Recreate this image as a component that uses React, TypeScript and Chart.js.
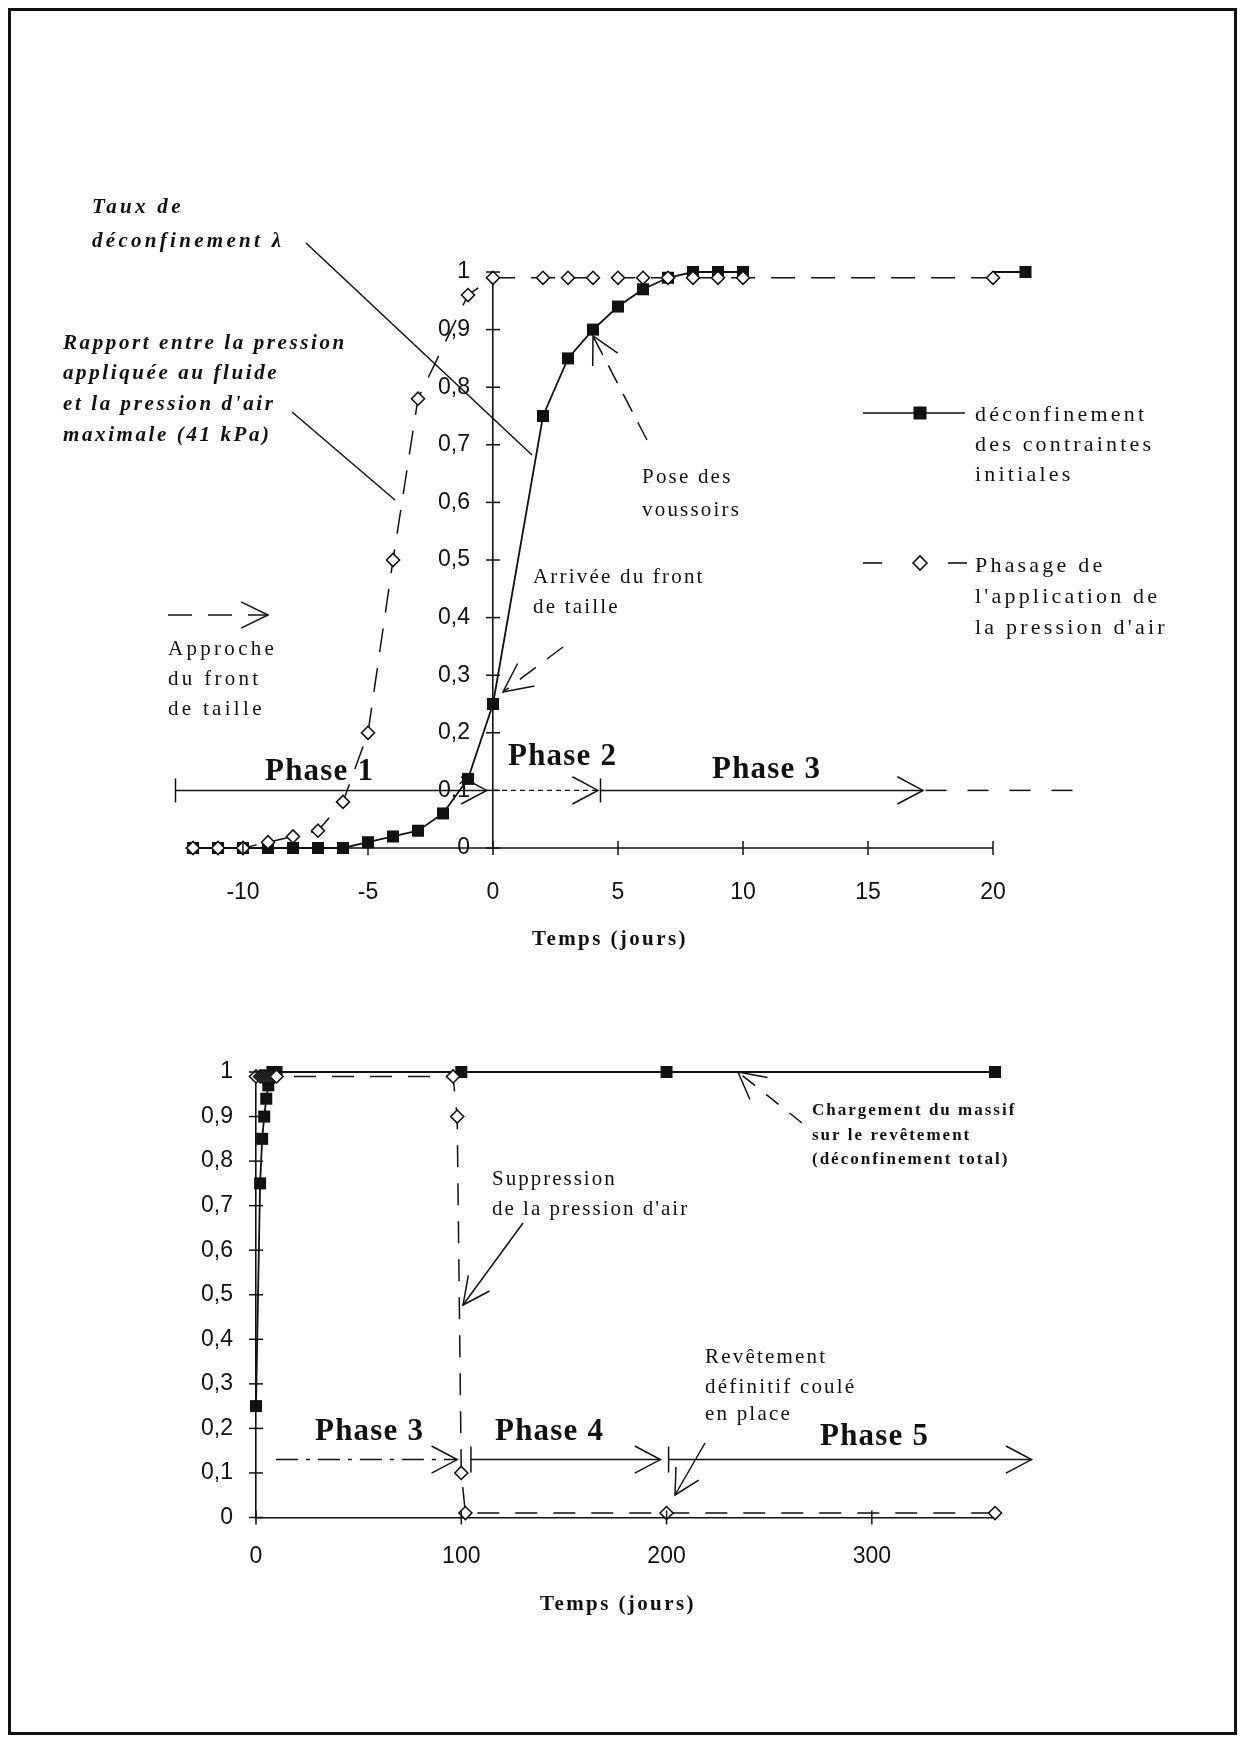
import React, { useEffect, useRef } from 'react';
import { Chart, registerables } from 'chart.js';

Chart.register(...registerables);

const INK = '#111';
const SERIF = '"Liberation Serif", "Times New Roman", serif';
const SANS = '"Liberation Sans", Arial, sans-serif';

// ---------- Top chart (Temps en jours, -12 .. 20) ----------
const topSquareDays = [-12, -11, -10, -9, -8, -7, -6, -5, -4, -3, -2, -1, 0, 2, 3, 4, 5, 6, 7, 8, 9, 10, 21.3];
const topSquareValues = [0, 0, 0, 0, 0, 0, 0, 0.01, 0.02, 0.03, 0.06, 0.12, 0.25, 0.75, 0.85, 0.9, 0.94, 0.97, 0.99, 1, 1, 1, 1];
const topDiamondDays = [-12, -11, -10, -9, -8, -7, -6, -5, -4, -3, -1, 0, 2, 3, 4, 5, 6, 7, 8, 9, 10, 20];
const topDiamondValues = [0, 0, 0, 0.01, 0.02, 0.03, 0.08, 0.2, 0.5, 0.78, 0.96, 0.99, 0.99, 0.99, 0.99, 0.99, 0.99, 0.99, 0.99, 0.99, 0.99, 0.99];

// ---------- Bottom chart (Temps en jours, 0 .. 360) ----------
const bottomSquareDays = [0, 2, 3, 4, 5, 6, 7, 8, 9, 10, 100, 200, 360];
const bottomSquareValues = [0.25, 0.75, 0.85, 0.9, 0.94, 0.97, 0.99, 1, 1, 1, 1, 1, 1];
const bottomDiamondDays = [0, 2, 3, 4, 5, 6, 7, 8, 9, 10, 96, 98, 100, 102, 200, 360];
const bottomDiamondValues = [0.99, 0.99, 0.99, 0.99, 0.99, 0.99, 0.99, 0.99, 0.99, 0.99, 0.99, 0.9, 0.1, 0.01, 0.01, 0.01];

// ---------- Ticks ----------
const X_TICKS_TOP = [-10, -5, 0, 5, 10, 15, 20];
const X_TICKS_BOTTOM = [0, 100, 200, 300];
const Y_TICKS = [0, 0.1, 0.2, 0.3, 0.4, 0.5, 0.6, 0.7, 0.8, 0.9, 1];
const Y_TICK_LABELS = ['0', '0,1', '0,2', '0,3', '0,4', '0,5', '0,6', '0,7', '0,8', '0,9', '1'];

const LEGEND_SQUARE = ['déconfinement', 'des contraintes', 'initiales'];
const LEGEND_DIAMOND = ['Phasage de', "l'application de", "la pression d'air"];

type Pt = [number, number];

function seg(ctx: CanvasRenderingContext2D, pts: Pt[], w = 1.5, dash: number[] = []) {
  ctx.save();
  ctx.beginPath();
  ctx.setLineDash(dash);
  ctx.lineWidth = w;
  ctx.strokeStyle = INK;
  ctx.moveTo(pts[0][0], pts[0][1]);
  for (let i = 1; i < pts.length; i++) ctx.lineTo(pts[i][0], pts[i][1]);
  ctx.stroke();
  ctx.restore();
}

function head(ctx: CanvasRenderingContext2D, tip: Pt, from: Pt, len = 29, angDeg = 28) {
  const a = Math.atan2(from[1] - tip[1], from[0] - tip[0]);
  const r = (angDeg * Math.PI) / 180;
  seg(ctx, [
    [tip[0] + len * Math.cos(a + r), tip[1] + len * Math.sin(a + r)],
    tip,
    [tip[0] + len * Math.cos(a - r), tip[1] + len * Math.sin(a - r)],
  ]);
}

function text(ctx: CanvasRenderingContext2D, s: string, x: number, y: number, font: string, spacing: number) {
  ctx.save();
  ctx.font = font;
  ctx.fillStyle = INK;
  ctx.textAlign = 'left';
  ctx.textBaseline = 'alphabetic';
  (ctx as any).letterSpacing = spacing + 'px';
  ctx.fillText(s, x, y);
  ctx.restore();
}

const F_BI = `italic bold 21px ${SERIF}`;
const F_R = `21px ${SERIF}`;
const F_LEG = `22px ${SERIF}`;
const F_PH = `bold 31px ${SERIF}`;
const F_T = `bold 21px ${SERIF}`;
const F_SM = `bold 17px ${SERIF}`;

function drawCrosses(chart: any) {
  const ctx = chart.ctx as CanvasRenderingContext2D;
  const xs = chart.scales.x;
  const ys = chart.scales.y;
  const ax = xs.getPixelForValue(0);
  const ay = ys.getPixelForValue(0);
  ys.ticks.forEach((t: any) => {
    const p = ys.getPixelForValue(t.value);
    seg(ctx, [[ax - 7, p], [ax + 7, p]], 1.5);
  });
  xs.ticks.forEach((t: any) => {
    const p = xs.getPixelForValue(t.value);
    seg(ctx, [[p, ay - 7], [p, ay + 7]], 1.5);
  });
}

const topAnnotations = {
  id: 'topAnnotations',
  beforeDatasetsDraw(chart: any) {
    // x axis line of the upper chart ends at the last tick (20)
    const ctx = chart.ctx as CanvasRenderingContext2D;
    const xs = chart.scales.x;
    const ay = chart.scales.y.getPixelForValue(0);
    seg(ctx, [[xs.getPixelForValue(xs.min), ay], [xs.getPixelForValue(X_TICKS_TOP[X_TICKS_TOP.length - 1]), ay]], 1.6);
  },
  afterDraw(chart: any) {
    const ctx = chart.ctx as CanvasRenderingContext2D;
    const xs = chart.scales.x;
    const ys = chart.scales.y;
    const X = (v: number) => xs.getPixelForValue(v);
    drawCrosses(chart);

    // phase arrows at lambda = 0.1
    const py = ys.getPixelForValue(0.1);
    seg(ctx, [[X(-12.7), py - 12], [X(-12.7), py + 12]]);
    seg(ctx, [[X(-12.7), py], [X(-0.25), py]]);
    head(ctx, [X(-0.25), py], [X(-5), py]);
    seg(ctx, [[X(0), py], [X(4.2), py]], 1.2, [5, 4]);
    head(ctx, [X(4.2), py], [X(0), py]);
    seg(ctx, [[X(4.3), py - 12], [X(4.3), py + 12]]);
    seg(ctx, [[X(4.3), py], [X(17.2), py]]);
    head(ctx, [X(17.2), py], [X(10), py]);
    seg(ctx, [[X(17.3), py], [X(23.2), py]], 1.5, [21, 21]);

    text(ctx, 'Phase 1', 265, 780, F_PH, 1.2);
    text(ctx, 'Phase 2', 508, 765, F_PH, 1.2);
    text(ctx, 'Phase 3', 712, 778, F_PH, 1.2);

    // bold italic labels
    text(ctx, 'Taux de', 92, 213, F_BI, 3.3);
    text(ctx, 'déconfinement λ', 92, 247, F_BI, 3.3);
    seg(ctx, [[306, 243], [532, 455]]);

    text(ctx, 'Rapport entre la pression', 63, 349, F_BI, 2.6);
    text(ctx, 'appliquée au fluide', 63, 379, F_BI, 2.6);
    text(ctx, "et la pression d'air", 63, 410, F_BI, 2.6);
    text(ctx, 'maximale (41 kPa)', 63, 441, F_BI, 2.6);
    seg(ctx, [[292, 412], [395, 500]]);

    // Pose des voussoirs
    text(ctx, 'Pose des', 642, 483, F_R, 2.2);
    text(ctx, 'voussoirs', 642, 516, F_R, 2.2);
    seg(ctx, [[647, 440], [593, 336]], 1.5, [20, 12]);
    head(ctx, [593, 336], [647, 440], 30, 28);

    // Arrivée du front de taille
    text(ctx, 'Arrivée du front', 533, 583, F_R, 2.2);
    text(ctx, 'de taille', 533, 613, F_R, 2.2);
    seg(ctx, [[563, 647], [503, 692]], 1.5, [20, 14]);
    head(ctx, [503, 692], [563, 647], 32, 26);

    // Approche du front de taille
    seg(ctx, [[168, 615], [268, 615]], 1.5, [24, 16]);
    head(ctx, [268, 615], [168, 615], 30, 26);
    text(ctx, 'Approche', 168, 655, F_R, 3.3);
    text(ctx, 'du front', 168, 685, F_R, 3.3);
    text(ctx, 'de taille', 168, 715, F_R, 3.3);

    // legend
    seg(ctx, [[863, 413], [965, 413]], 1.6);
    ctx.save();
    ctx.fillStyle = INK;
    ctx.fillRect(920 - 6.5, 413 - 6.5, 13, 13);
    ctx.restore();
    LEGEND_SQUARE.forEach((s, i) => text(ctx, s, 975, 421 + i * 30, F_LEG, 3.2));
    seg(ctx, [[863, 563], [882, 563]], 1.6);
    seg(ctx, [[948, 563], [967, 563]], 1.6);
    ctx.save();
    ctx.beginPath();
    ctx.moveTo(913, 563); ctx.lineTo(920, 556); ctx.lineTo(927, 563); ctx.lineTo(920, 570); ctx.closePath();
    ctx.fillStyle = '#fff'; ctx.fill();
    ctx.lineWidth = 1.6; ctx.strokeStyle = INK; ctx.stroke();
    ctx.restore();
    LEGEND_DIAMOND.forEach((s, i) => text(ctx, s, 975, 572 + i * 31, F_LEG, 3.2));

    text(ctx, 'Temps (jours)', 532, 945, F_T, 2.4);
  },
};

const bottomAnnotations = {
  id: 'bottomAnnotations',
  afterDraw(chart: any) {
    const ctx = chart.ctx as CanvasRenderingContext2D;
    const xs = chart.scales.x;
    const ys = chart.scales.y;
    const X = (v: number) => xs.getPixelForValue(v);
    drawCrosses(chart);

    const py = ys.getPixelForValue(0.13);
    seg(ctx, [[X(9.7), py], [X(98), py]], 1.5, [22, 8, 4, 8]);
    head(ctx, [X(98), py], [X(50), py]);
    seg(ctx, [[X(104.7), py - 13], [X(104.7), py + 13]]);
    seg(ctx, [[X(104.7), py], [X(197), py]]);
    head(ctx, [X(197), py], [X(150), py]);
    seg(ctx, [[X(201), py - 13], [X(201), py + 13]]);
    seg(ctx, [[X(201), py], [X(377.8), py]]);
    head(ctx, [X(377.8), py], [X(300), py]);

    text(ctx, 'Phase 3', 315, 1440, F_PH, 1.2);
    text(ctx, 'Phase 4', 495, 1440, F_PH, 1.2);
    text(ctx, 'Phase 5', 820, 1445, F_PH, 1.2);

    text(ctx, 'Suppression', 492, 1185, F_R, 2.0);
    text(ctx, "de la pression d'air", 492, 1215, F_R, 2.0);
    seg(ctx, [[523, 1223], [463, 1305]]);
    head(ctx, [463, 1305], [523, 1223], 30, 26);

    text(ctx, 'Chargement du massif', 812, 1115, F_SM, 2.0);
    text(ctx, 'sur le revêtement', 812, 1140, F_SM, 2.0);
    text(ctx, '(déconfinement total)', 812, 1164, F_SM, 2.0);
    seg(ctx, [[802, 1123], [738, 1072]], 1.5, [16, 14]);
    head(ctx, [738, 1072], [802, 1123], 30, 28);

    text(ctx, 'Revêtement', 705, 1363, F_R, 2.2);
    text(ctx, 'définitif coulé', 705, 1393, F_R, 2.2);
    text(ctx, 'en place', 705, 1420, F_R, 2.2);
    seg(ctx, [[705, 1443], [675, 1495]]);
    head(ctx, [675, 1495], [705, 1443], 28, 28);

    text(ctx, 'Temps (jours)', 540, 1610, F_T, 2.4);
  },
};

function xScale(min: number, max: number, ticks: number[], pad: number, showBorder: boolean) {
  return {
    type: 'linear',
    axis: 'x',
    min,
    max,
    position: { y: 0 },
    afterBuildTicks: (s: any) => {
      s.ticks = ticks.map((v) => ({ value: v }));
    },
    grid: { display: true, drawOnChartArea: false, drawTicks: false },
    border: { display: showBorder, color: INK, width: 1.6 },
    ticks: {
      autoSkip: false,
      maxRotation: 0,
      padding: pad,
      color: INK,
      font: { family: SANS, size: 23 },
    },
  };
}

function yScale() {
  return {
    type: 'linear',
    axis: 'y',
    min: 0,
    max: 1,
    position: { x: 0 },
    afterBuildTicks: (s: any) => {
      s.ticks = Y_TICKS.map((v) => ({ value: v }));
    },
    grid: { display: true, drawOnChartArea: false, drawTicks: false },
    border: { display: true, color: INK, width: 1.6 },
    ticks: {
      autoSkip: false,
      padding: 22,
      color: INK,
      font: { family: SANS, size: 23 },
      // trailing em space keeps the labels clear of the axis line
      callback: (_v: any, i: number) => Y_TICK_LABELS[i] + '\u2003',
    },
  };
}

function squareDataset(xs: number[], ys: number[], segment?: any) {
  return {
    label: 'déconfinement des contraintes initiales',
    data: xs.map((x, i) => ({ x, y: ys[i] })),
    borderColor: INK,
    borderWidth: 1.8,
    pointStyle: 'rect',
    pointRadius: 8.5,
    pointBackgroundColor: INK,
    pointBorderColor: INK,
    pointBorderWidth: 0,
    tension: 0,
    fill: false,
    clip: false,
    segment,
  };
}

function diamondDataset(xs: number[], ys: number[], dash: number[]) {
  return {
    label: "Phasage de l'application de la pression d'air",
    data: xs.map((x, i) => ({ x, y: ys[i] })),
    borderColor: INK,
    borderWidth: 1.5,
    borderDash: dash,
    pointStyle: 'rectRot',
    pointRadius: 6.5,
    pointBackgroundColor: '#fff',
    pointBorderColor: INK,
    pointBorderWidth: 1.6,
    tension: 0,
    fill: false,
    clip: false,
  };
}

function baseOptions(padding: any, scales: any) {
  return {
    responsive: false,
    animation: false,
    events: [],
    layout: { padding },
    plugins: { legend: { display: false }, tooltip: { enabled: false }, title: { display: false } },
    scales,
  };
}

export default function App() {
  const topRef = useRef<HTMLCanvasElement>(null);
  const botRef = useRef<HTMLCanvasElement>(null);

  useEffect(() => {
    const nSq = topSquareDays.length;
    const lastDiamondDay = topDiamondDays[topDiamondDays.length - 1];
    const topSegment = {
      borderDash: (c: any) => {
        if (c.p1DataIndex !== nSq - 1) return undefined;
        const x0 = topSquareDays[nSq - 2];
        const x1 = topSquareDays[nSq - 1];
        const gap = ((c.p1.x - c.p0.x) * (lastDiamondDay - x0)) / (x1 - x0);
        return [0, gap, 4000];
      },
    };

    const top = new Chart(topRef.current as HTMLCanvasElement, {
      type: 'line',
      data: {
        datasets: [
          diamondDataset(topDiamondDays, topDiamondValues, [24, 16]),
          squareDataset(topSquareDays, topSquareValues, topSegment),
        ] as any,
      },
      options: baseOptions(
        { left: 185.5, right: 198, top: 272, bottom: 894 },
        { x: xScale(-12.3, 22, X_TICKS_TOP, 31, false), y: yScale() }
      ) as any,
      plugins: [topAnnotations],
    });

    const bottom = new Chart(botRef.current as HTMLCanvasElement, {
      type: 'line',
      data: {
        datasets: [
          diamondDataset(bottomDiamondDays, bottomDiamondValues, [22, 16]),
          squareDataset(bottomSquareDays, bottomSquareValues),
        ] as any,
      },
      options: baseOptions(
        { left: 256, right: 246, top: 1072, bottom: 224.5 },
        { x: xScale(0, 360, X_TICKS_BOTTOM, 25.5, true), y: yScale() }
      ) as any,
      plugins: [bottomAnnotations],
    });

    return () => {
      top.destroy();
      bottom.destroy();
    };
  }, []);

  const canvasStyle: React.CSSProperties = { position: 'absolute', left: 0, top: 0, width: 1241, height: 1742 };
  return (
    <div style={{ position: 'absolute', left: 0, top: 0, width: 1241, height: 1742, overflow: 'hidden', background: '#fff' }}>
      <div
        style={{
          position: 'absolute',
          left: 8,
          top: 8,
          width: 1229,
          height: 1727,
          border: '3px solid #111',
          boxSizing: 'border-box',
        }}
      />
      <canvas ref={topRef} width={1241} height={1742} style={canvasStyle} />
      <canvas ref={botRef} width={1241} height={1742} style={canvasStyle} />
    </div>
  );
}
